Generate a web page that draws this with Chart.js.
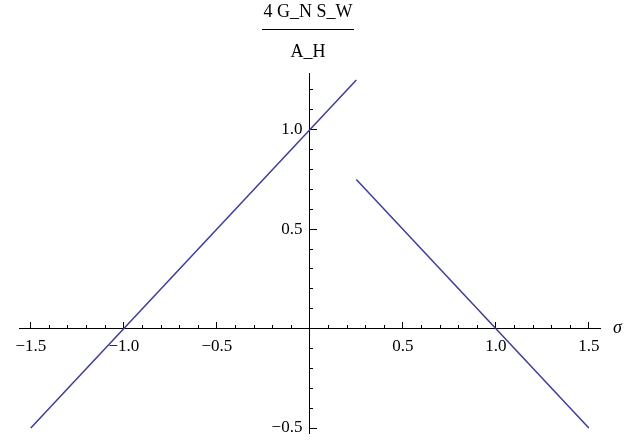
<!DOCTYPE html>
<html>
<head>
<meta charset="utf-8">
<script src="https://cdn.jsdelivr.net/npm/chart.js@4"></script>
<style>
  body { margin: 0; background: #fff; }
  #wrap { position: relative; width: 626px; height: 444px; }
  .lbl { position: absolute; font-family: "Liberation Serif", "DejaVu Serif", serif; color: #000; white-space: nowrap; }
  #frac { left: 262px; top: 0px; width: 92px; text-align: center; font-size: 18px; }
  #frac .num { height: 22px; line-height: 22px; padding-bottom: 7px; border-bottom: 1px solid #000; }
  #frac .den { height: 22px; line-height: 22px; margin-top: 10px; }
  #sigma { left: 613px; top: 317px; font-size: 18px; font-style: italic; }
</style>
</head>
<body>
<div id="wrap">
  <canvas id="c"></canvas>
  <div id="frac" class="lbl"><div class="num">4 G_N S_W</div><div class="den">A_H</div></div>
  <div id="sigma" class="lbl">σ</div>
</div>
<script>
// left branch: y = sigma + 1, right branch: y = 1 - sigma
const leftSigma = [-1.5, 0.25];
const leftValue = [-0.5, 1.25];
const rightSigma = [0.25, 1.5];
const rightValue = [0.75, -0.5];

const xRange = [-1.56, 1.56];
const yRange = [-0.525, 1.285];
const lineColor = 'rgb(61, 61, 153)';

function fmt(v) {
    if (Math.abs(v) < 1e-9) return '';
    const s = Math.abs(v).toFixed(1);
    return v < 0 ? '\u2212' + s : s;
}

function noSpace(scale) {
    if (scale.isHorizontal()) scale.height = 0; else scale.width = 0;
}

const tickFont = { family: '"Liberation Serif", serif', size: 17 };

new Chart(document.getElementById('c'), {
    type: 'scatter',
    data: {
        datasets: [
            {
                data: leftSigma.map((s, i) => ({ x: s, y: leftValue[i] })),
                showLine: true,
                borderColor: lineColor,
                borderWidth: 1.5,
                pointRadius: 0
            },
            {
                data: rightSigma.map((s, i) => ({ x: s, y: rightValue[i] })),
                showLine: true,
                borderColor: lineColor,
                borderWidth: 1.5,
                pointRadius: 0
            }
        ]
    },
    options: {
        responsive: true,
        maintainAspectRatio: false,
        animation: false,
        layout: { padding: { left: 15, right: 26, top: 73, bottom: 11 } },
        plugins: { legend: { display: false }, tooltip: { enabled: false } },
        scales: {
            x: {
                type: 'linear', min: xRange[0], max: xRange[1],
                position: { y: 0 },
                afterFit: noSpace,
                border: { display: true, color: '#000', width: 1 },
                grid: { drawOnChartArea: false, color: '#000', tickLength: -4 },
                ticks: { stepSize: 0.1, includeBounds: false, autoSkip: false, display: false }
            },
            xMajor: {
                type: 'linear', axis: 'x', min: xRange[0], max: xRange[1],
                position: { y: 0 },
                afterFit: noSpace,
                border: { display: false },
                grid: { drawOnChartArea: false, color: '#000', tickLength: -7 },
                ticks: { stepSize: 0.5, includeBounds: false, autoSkip: false, maxRotation: 0,
                         padding: 15, color: '#000', font: tickFont, callback: fmt }
            },
            y: {
                type: 'linear', min: yRange[0], max: yRange[1],
                position: { x: 0 },
                afterFit: noSpace,
                border: { display: true, color: '#000', width: 1 },
                grid: { drawOnChartArea: false, color: '#000', tickLength: -4 },
                ticks: { stepSize: 0.1, includeBounds: false, autoSkip: false, display: false }
            },
            yMajor: {
                type: 'linear', axis: 'y', min: yRange[0], max: yRange[1],
                position: { x: 0 },
                afterFit: noSpace,
                border: { display: false },
                grid: { drawOnChartArea: false, color: '#000', tickLength: -7 },
                ticks: { stepSize: 0.5, includeBounds: false, autoSkip: false, display: false }
            },
            yLabels: {
                type: 'linear', axis: 'y', min: yRange[0], max: yRange[1],
                position: { x: -0.04 },
                afterFit: noSpace,
                border: { display: false },
                grid: { display: false, drawTicks: false },
                ticks: { stepSize: 0.5, includeBounds: false, autoSkip: false, padding: 0,
                         color: '#000', font: tickFont, callback: fmt }
            }
        }
    }
});
</script>
</body>
</html>
